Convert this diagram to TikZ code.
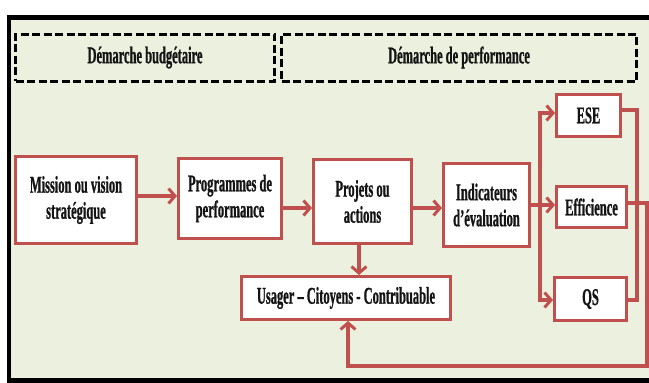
\documentclass[tikz,border=0pt]{standalone}
\usepackage{fontspec}
\setmainfont{Liberation Serif}[FakeStretch=0.52, BoldFeatures={FakeBold=0.8}]
\usetikzlibrary{arrows.meta}
\definecolor{bgc}{HTML}{EBF1DE}
\definecolor{redc}{HTML}{C0504D}
\definecolor{txtc}{HTML}{141414}
\begin{document}
\begin{tikzpicture}[x=1pt,y=-1pt,
  boxn/.style={draw=redc, line width=3pt, fill=white, inner sep=0pt, align=center,
    font=\fontsize{24}{26}\selectfont\bfseries, text=txtc},
  dbox/.style={draw=black, line width=3pt, dash pattern=on 8pt off 3.5pt, inner sep=0pt,
    font=\fontsize{24}{26}\selectfont\bfseries, text=txtc},
  arr/.style={draw=redc, line width=4pt, -{Straight Barb[length=6.5pt,width=15pt,line width=3pt]}},
  lnk/.style={draw=redc, line width=4pt},
]
\useasboundingbox (0,0) rectangle (649,383);
\fill[white] (0,0) rectangle (649,383);
\draw[line width=4.5pt, fill=bgc] (9,17.5) rectangle (665,380.5);

% dashed headers
\node[dbox, minimum width=259pt, minimum height=47pt] (hb) at (145,57.5) {Démarche budgétaire};
\node[dbox, minimum width=355pt, minimum height=47pt] (hp) at (459,57.5) {Démarche de performance};

% boxes
\node[boxn, minimum width=121pt, minimum height=87pt] (mission) at (76,200) {Mission ou vision\\stratégique};
\node[boxn, minimum width=103pt, minimum height=80pt] (prog) at (230,198.5) {Programmes de\\performance};
\node[boxn, minimum width=98pt, minimum height=84pt] (proj) at (362.5,201.5) {Projets ou\\actions};
\node[boxn, minimum width=86pt, minimum height=83pt] (indic) at (486.5,205) {Indicateurs\\d’évaluation};
\node[boxn, minimum width=64pt, minimum height=42pt] (ese) at (588.5,115.5) {ESE};
\node[boxn, minimum width=70pt, minimum height=41pt] (eff) at (591.5,207) {Efficience};
\node[boxn, minimum width=72pt, minimum height=43pt] (qs) at (590.5,299) {QS};
\node[boxn, minimum width=209pt, minimum height=43pt] (usr) at (346,298) {Usager – Citoyens - Contribuable};

% connectors
\coordinate (br) at (540,205);
\coordinate (brtop) at (540,113);
\coordinate (brbot) at (540,300);
\coordinate (colx) at (637,300);
\coordinate (rx) at (647,366);
\coordinate (vx) at (359,0);

\draw[arr] (mission.east |- 0,196) -- (prog.west |- 0,196);
\draw[arr] (prog.east |- 0,208) -- (proj.west |- 0,208);
\draw[arr] (proj.east |- 0,208) -- (indic.west |- 0,208);
\draw[lnk] (indic.east |- br) -- (br);
\draw[arr] (br) -- (eff.west |- br);
\draw[lnk] (brtop) -- (brbot);
\draw[arr] ([xshift=-2pt]brtop) -- (ese.west |- brtop);
\draw[arr] ([xshift=-2pt]brbot) -- (qs.west |- brbot);
\draw[arr] (vx |- proj.south) -- (vx |- usr.north);
\draw[lnk] (ese.east |- 0,110) -| (colx) -- (qs.east |- colx);
\draw[arr] (eff.east |- 0,203) -| (rx) -| ([xshift=2pt]usr.south);
\end{tikzpicture}
\end{document}
